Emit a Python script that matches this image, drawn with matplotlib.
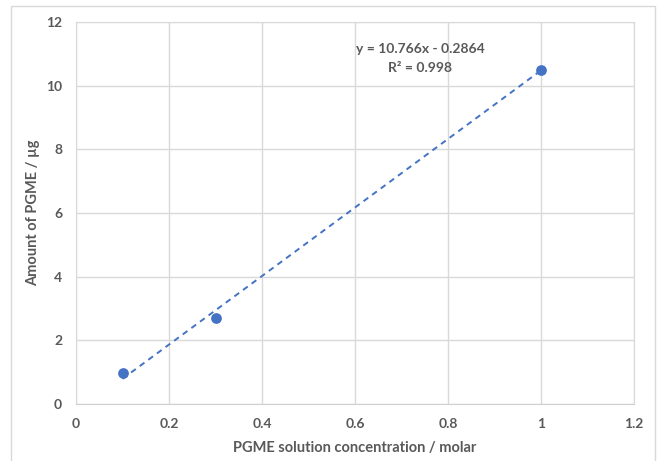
import matplotlib.pyplot as plt
from matplotlib.patches import Rectangle

conc = [0.1, 0.3, 1.0]
amount = [0.97, 2.70, 10.50]
slope, intercept, r2 = 10.766, -0.2864, 0.998
x_ticks = [0, 0.2, 0.4, 0.6, 0.8, 1, 1.2]
x_tick_labels = ['0', '0.2', '0.4', '0.6', '0.8', '1', '1.2']
y_ticks = [0, 2, 4, 6, 8, 10, 12]

plt.rcParams['font.family'] = ['Lato', 'DejaVu Sans']
blue = '#4472C4'
grey = '#595959'

fig = plt.figure(figsize=(6.62, 4.61), dpi=100)
# outer chart border (bottom edge runs off the picture)
fig.patches.append(Rectangle((11 / 662, -0.05), 644 / 662, 1 - 6 / 461 + 0.05,
                             transform=fig.transFigure, fill=False,
                             edgecolor='#d9d9d9', linewidth=1))

ax = fig.add_axes([76 / 662, 1 - 404 / 461, 558 / 662, 382 / 461])
ax.set_xlim(0, 1.2)
ax.set_ylim(0, 12)
ax.set_xticks(x_ticks)
ax.set_xticklabels(x_tick_labels)
ax.set_yticks(y_ticks)
ax.grid(True, color='#d9d9d9', linewidth=1)
ax.set_axisbelow(True)
for side in ['top', 'right', 'left']:
    ax.spines[side].set_color('#d9d9d9')
ax.spines['bottom'].set_color('#d0d0d0')
ax.tick_params(length=0, labelsize=10, labelcolor=grey, pad=10)
for lbl in ax.get_xticklabels() + ax.get_yticklabels():
    lbl.set_fontweight('bold')

xs = [min(conc), max(conc)]
ax.plot(xs, [slope * x + intercept for x in xs], linestyle=(0, (3, 2.5)),
        color=blue, linewidth=1.4)
ax.scatter(conc, amount, s=45, color=blue, zorder=3)

ax.text(0.74, 11.15, f'y = {slope}x - {abs(intercept)}', ha='center', va='center',
        fontsize=10, color=grey, fontweight='bold')
ax.text(0.74, 10.55, f'R² = {r2}', ha='center', va='center',
        fontsize=10, color=grey, fontweight='bold')

ax.set_xlabel('PGME solution concentration / molar', fontsize=10.5, color=grey,
              fontweight='bold', labelpad=8)
ax.set_ylabel('Amount of PGME / µg', fontsize=10.5, color=grey,
              fontweight='bold', labelpad=4)

fig.savefig('out.png', dpi=100)
